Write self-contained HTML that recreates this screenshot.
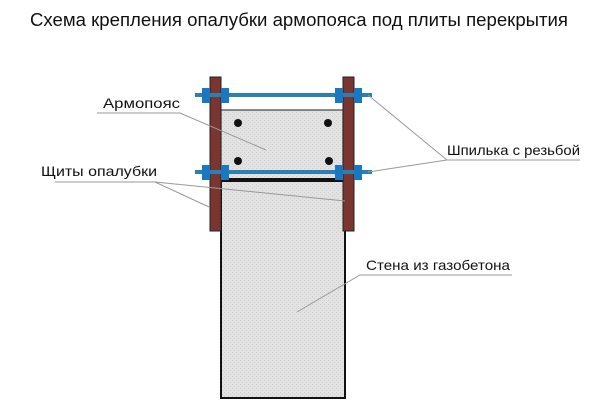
<!DOCTYPE html>
<html><head><meta charset="utf-8"><style>
body{margin:0;background:#fff;}
svg{display:block}
text{font-family:"Liberation Sans",sans-serif;fill:#111}
</style></head><body>
<svg width="600" height="411" viewBox="0 0 600 411" xmlns="http://www.w3.org/2000/svg">
<defs>
<pattern id="p" width="4" height="4" patternUnits="userSpaceOnUse">
<rect width="4" height="4" fill="#e2e2e2"/><rect width="1" height="1" fill="#cfcfcf"/><rect x="2" y="2" width="1" height="1" fill="#cfcfcf"/>
</pattern>
</defs>
<text x="299" y="26" font-size="18" text-anchor="middle" textLength="538" lengthAdjust="spacingAndGlyphs">Схема крепления опалубки армопояса под плиты перекрытия</text>
<rect x="221" y="181" width="124" height="217" fill="url(#p)" stroke="#111" stroke-width="2"/>
<rect x="221" y="110" width="122" height="69" fill="url(#p)" stroke="#444" stroke-width="1.2"/>
<line x1="221" y1="179" x2="343" y2="179" stroke="#111" stroke-width="2"/>
<circle cx="238" cy="123" r="4" fill="#111"/><circle cx="328" cy="123" r="4" fill="#111"/>
<circle cx="238" cy="161" r="4" fill="#111"/><circle cx="329" cy="161" r="4" fill="#111"/>
<rect x="210" y="77" width="11" height="154" fill="#7a3530" stroke="#222" stroke-width="1"/>
<rect x="343" y="77" width="11" height="154" fill="#7a3530" stroke="#222" stroke-width="1"/>
<rect x="195" y="93" width="177" height="4" fill="#2d7fb0"/>
<rect x="195" y="170" width="177" height="4" fill="#2d7fb0"/>
<g fill="#1a78c0">
<rect x="202" y="88" width="8" height="15"/><rect x="221" y="88" width="8" height="15"/>
<rect x="335" y="88" width="8" height="15"/><rect x="354" y="88" width="8" height="15"/>
<rect x="202" y="165" width="8" height="15"/><rect x="221" y="165" width="8" height="15"/>
<rect x="335" y="165" width="8" height="15"/><rect x="354" y="165" width="8" height="15"/>
</g>
<g stroke="#999" stroke-width="1" fill="none">
<polyline points="97,113 180,113 266,150"/>
<polyline points="55,182 155,182 345,201"/>
<line x1="155" y1="182" x2="209" y2="207"/>
<polyline points="580,160 447,160 368,95"/>
<line x1="447" y1="160" x2="368" y2="172"/>
<polyline points="512,275 360,275 297,312"/>
</g>
<g font-size="14">
<text x="103" y="108" textLength="77" lengthAdjust="spacingAndGlyphs">Армопояс</text>
<text x="41" y="176" textLength="116" lengthAdjust="spacingAndGlyphs">Щиты опалубки</text>
<text x="447" y="155" textLength="133" lengthAdjust="spacingAndGlyphs">Шпилька с резьбой</text>
<text x="366" y="270" textLength="144" lengthAdjust="spacingAndGlyphs">Стена из газобетона</text>
</g>
</svg>
</body></html>
